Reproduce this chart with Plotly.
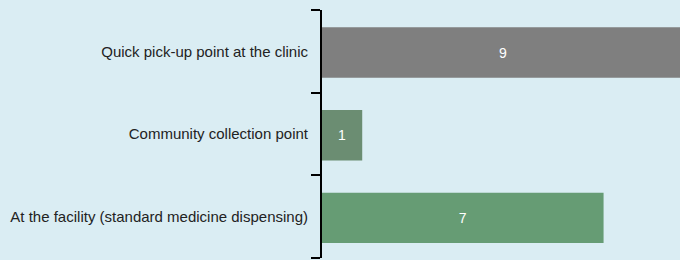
import plotly.graph_objects as go

categories = ["At the facility (standard medicine dispensing)",
              "Community collection point",
              "Quick pick-up point at the clinic"]
values = [7, 1, 9]
colors = ["#669c74", "#6b8d72", "#7f7f7f"]

fig = go.Figure(go.Bar(
    y=categories, x=values, orientation="h",
    marker=dict(color=colors, line=dict(width=0)),
    width=0.61, offset=-0.32,
    text=[str(v) for v in values], textposition="inside",
    insidetextanchor="middle",
    textfont=dict(color="white", size=14, family="Liberation Sans, Arial"),
    hoverinfo="skip",
))
fig.update_layout(
    width=680, height=260,
    margin=dict(l=322, r=0, t=10, b=2),
    paper_bgcolor="#daedf3", plot_bgcolor="#daedf3",
    showlegend=False,
    font=dict(family="Liberation Sans, Arial", size=15, color="#222222"),
    xaxis=dict(range=[0, 8.9], visible=False, showgrid=False, zeroline=False, fixedrange=True),
    yaxis=dict(showline=True, linecolor="black", linewidth=2,
               ticks="outside", ticklen=9, tickwidth=2, tickcolor="black",
               tickson="boundaries", showgrid=False, zeroline=False,
               ticklabelstandoff=9,
               tickfont=dict(size=15, color="#222222")),
)
fig.write_html("out.html", config={"displayModeBar": False})
with open("out.html", "r", encoding="utf-8") as f:
    html = f.read()
html = html.replace("<body>", '<body style="margin:0;background:#daedf3">', 1)
with open("out.html", "w", encoding="utf-8") as f:
    f.write(html)
